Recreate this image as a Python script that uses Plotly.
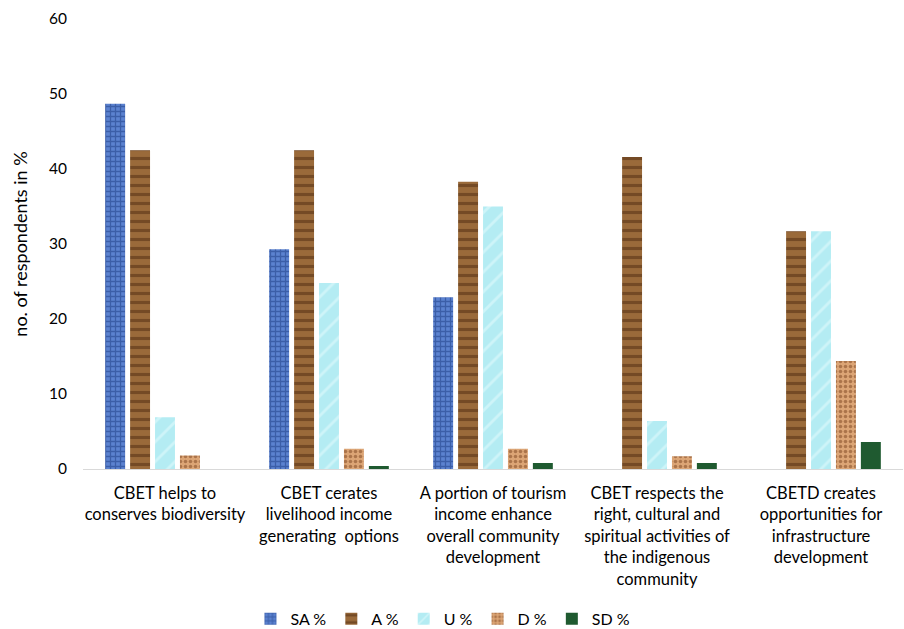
import plotly.graph_objects as go

categories = [
    "CBET helps to<br>conserves biodiversity",
    "CBET cerates<br>livelihood income<br>generating  options",
    "A portion of tourism<br>income enhance<br>overall community<br>development",
    "CBET respects the<br>right, cultural and<br>spiritual activities of<br>the indigenous<br>community",
    "CBETD creates<br>opportunities for<br>infrastructure<br>development",
]
series_names = ["SA %", "A %", "U %", "D %", "SD %"]
sa = [48.7, 29.3, 22.9, 0, 0]
a = [42.5, 42.5, 38.3, 41.6, 31.7]
u = [6.9, 24.8, 35.0, 6.4, 31.7]
d = [1.8, 2.7, 2.7, 1.7, 14.4]
sd = [0, 0.4, 0.8, 0.8, 3.6]
values = [sa, a, u, d, sd]
y_ticks = [0, 10, 20, 30, 40, 50, 60]

styles = [
    dict(bg="#5b82d0", fg="#1c3a80", shape="+", size=5, sol=0.45),
    dict(bg="#9a6a3a", fg="#4e2a10", shape="-", size=9, sol=0.35),
    dict(bg="#b4ecf3", fg="#e8fbfd", shape="/", size=14, sol=0.2),
    dict(bg="#dca575", fg="#7a4420", shape=".", size=5, sol=0.4),
    dict(bg="#1f5a30", fg="#143d20", shape="", size=8, sol=0.3),
]

fig = go.Figure()
for name, vals, st in zip(series_names, values, styles):
    fig.add_trace(go.Bar(
        x=categories, y=vals, name=name,
        marker=dict(
            color=st["bg"],
            line=dict(width=0),
            pattern=dict(shape=st["shape"], fgcolor=st["fg"], bgcolor=st["bg"],
                         size=st["size"], solidity=st["sol"], fillmode="overlay"),
        ),
    ))

fig.update_layout(
    width=904, height=629,
    margin=dict(l=83, r=1, t=19, b=160),
    paper_bgcolor="white", plot_bgcolor="white",
    barmode="group", bargap=0.24, bargroupgap=0.2,
    font=dict(family="Lato, Carlito, Liberation Sans, sans-serif", size=15, color="#000000"),
    showlegend=True,
    legend=dict(orientation="h", x=0.49, xanchor="center", xref="container",
                y=0.016, yanchor="middle", yref="container",
                font=dict(size=16), itemwidth=30, traceorder="normal"),
    xaxis=dict(showline=True, linecolor="#d9d9d9", linewidth=1, ticks="",
               tickfont=dict(size=16.5), showgrid=False, ticklabelstandoff=9,
               automargin=False),
    yaxis=dict(range=[0, 60], tickvals=y_ticks, showgrid=False, zeroline=False,
               showline=False, ticks="", tickfont=dict(size=15.5),
               ticklabelstandoff=15, automargin=False,
               title=dict(text="no. of respondents in %", font=dict(size=18), standoff=16)),
)

fig.write_html("out.html")
